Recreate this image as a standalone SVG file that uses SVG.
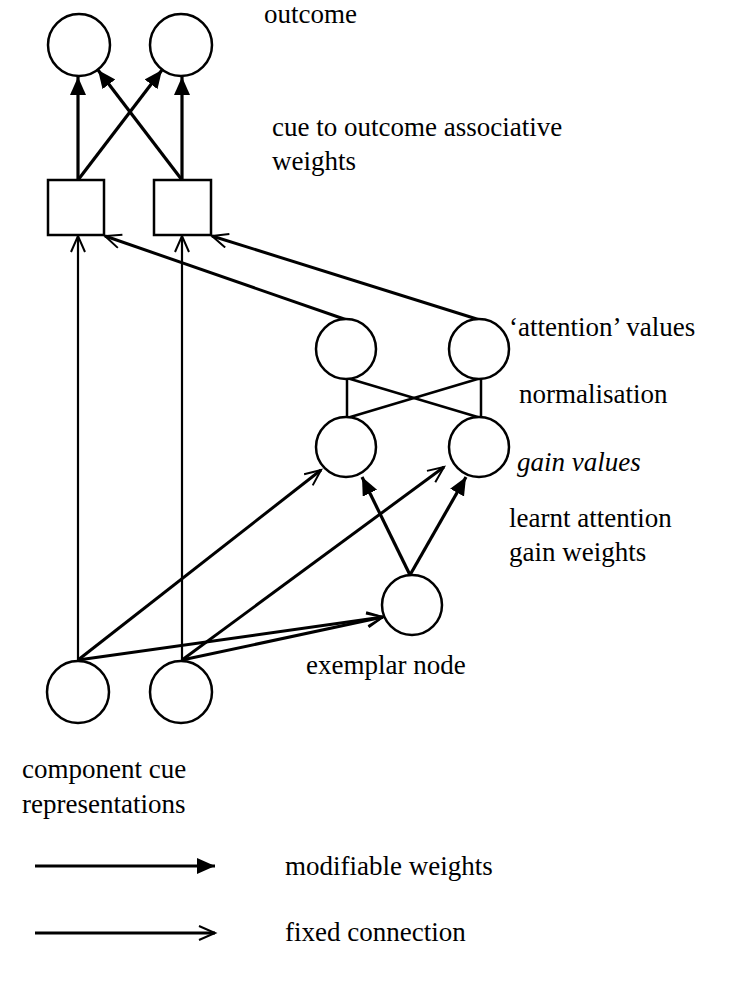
<svg xmlns="http://www.w3.org/2000/svg" width="733" height="981" viewBox="0 0 733 981">
<defs>
<marker id="filled" markerUnits="userSpaceOnUse" markerWidth="20" markerHeight="18" refX="18" refY="8" orient="auto">
<path d="M0,0 L18,8 L0,16 z" fill="#000"/>
</marker>
<marker id="open" markerUnits="userSpaceOnUse" markerWidth="20" markerHeight="18" refX="17" refY="8" orient="auto">
<path d="M1,1 L17,8 L1,15" fill="none" stroke="#000" stroke-width="2"/>
</marker>
</defs>
<style>
.node{fill:#fff;stroke:#000;stroke-width:2.5}
.mod{stroke:#000;stroke-width:3.2;fill:none;marker-end:url(#filled)}
.fix{stroke:#000;stroke-width:3;fill:none;marker-end:url(#open)}
.fixthin{stroke:#000;stroke-width:2.2;fill:none;marker-end:url(#open)}
.plain{stroke:#000;stroke-width:2.5;fill:none}
text{font-family:"Liberation Serif","DejaVu Serif","Times New Roman",serif;font-size:27px;fill:#000}
.it{font-style:italic}
</style>
<rect width="733" height="981" fill="#fff"/>
<g id="connectors">
<line class="mod" x1="78" y1="180" x2="78" y2="77"/>
<line class="mod" x1="182" y1="180" x2="182" y2="77"/>
<line class="mod" x1="78" y1="180" x2="162" y2="70"/>
<line class="mod" x1="182" y1="180" x2="98" y2="70"/>
<line class="fixthin" x1="78" y1="661" x2="78" y2="236"/>
<line class="fixthin" x1="182" y1="661" x2="182" y2="236"/>
<line class="fix" x1="347" y1="320" x2="105" y2="236"/>
<line class="fix" x1="480" y1="320" x2="212" y2="236"/>
<line class="plain" x1="347" y1="378" x2="347" y2="418"/>
<line class="plain" x1="481" y1="378" x2="481" y2="418"/>
<line class="plain" x1="347" y1="378" x2="481" y2="418"/>
<line class="plain" x1="481" y1="378" x2="347" y2="418"/>
<line class="mod" x1="410" y1="575" x2="362" y2="477"/>
<line class="mod" x1="410" y1="575" x2="466" y2="477"/>
<line class="fix" x1="78" y1="660" x2="321" y2="470"/>
<line class="fix" x1="182" y1="660" x2="444" y2="467"/>
<line class="fix" x1="78" y1="660" x2="383" y2="617"/>
<line class="fix" x1="182" y1="660" x2="383" y2="617"/>
<line class="mod" x1="35" y1="866" x2="215" y2="866"/>
<line class="fix" x1="35" y1="933" x2="215" y2="933"/>
</g>
<g id="outcome1"><circle class="node" cx="79" cy="45" r="31"/></g>
<g id="outcome2"><circle class="node" cx="181" cy="45" r="31"/></g>
<g id="box1"><rect class="node" x="48" y="180" width="56" height="55"/></g>
<g id="box2"><rect class="node" x="154" y="180" width="57" height="55"/></g>
<g id="attention1"><circle class="node" cx="346" cy="349" r="30"/></g>
<g id="attention2"><circle class="node" cx="479" cy="349" r="30"/></g>
<g id="gain1"><circle class="node" cx="346" cy="447" r="30"/></g>
<g id="gain2"><circle class="node" cx="479" cy="447" r="30"/></g>
<g id="exemplar"><circle class="node" cx="412" cy="605" r="30"/></g>
<g id="cue1"><circle class="node" cx="78" cy="692" r="31"/></g>
<g id="cue2"><circle class="node" cx="181" cy="692" r="31"/></g>
<g id="labels">
<text x="264" y="23">outcome</text>
<text x="272" y="136">cue to outcome associative</text>
<text x="272" y="170">weights</text>
<text x="509" y="336">‘attention’ values</text>
<text x="519" y="403">normalisation</text>
<text class="it" x="517" y="471">gain values</text>
<text x="509" y="527">learnt attention</text>
<text x="509" y="561">gain weights</text>
<text x="306" y="674">exemplar node</text>
<text x="22" y="778">component cue</text>
<text x="22" y="813">representations</text>
<text x="285" y="875">modifiable weights</text>
<text x="285" y="941">fixed connection</text>
</g>
</svg>
